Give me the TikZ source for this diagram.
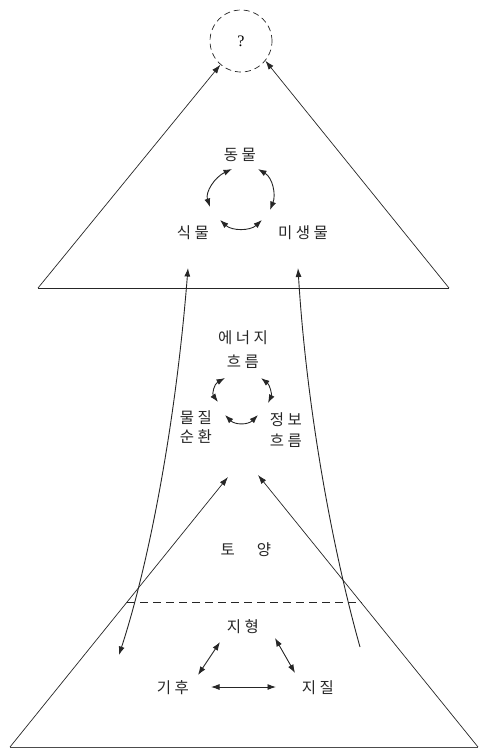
\documentclass[tikz,border=0pt]{standalone}
\usepackage{fontspec}
\setmainfont{Noto Sans CJK KR}
\newfontfamily\qfont{Liberation Serif}
\usetikzlibrary{arrows.meta}
\newcommand{\gp}{\hspace{3.5pt}}
\tikzset{
  lbl/.style={inner sep=0pt, font=\fontsize{15.5}{18}\selectfont, text=black!85},
  edge/.style={line width=0.7pt, draw=black!85},
  arr/.style={edge, -{Latex[length=9pt,width=6pt]}},
  darr/.style={line width=0.9pt, draw=black!85, {Latex[length=8.5pt,width=6pt]}-{Latex[length=8.5pt,width=6pt]}},
}
\begin{document}
\begin{tikzpicture}[x=1pt,y=-1pt]
\useasboundingbox (0,0) rectangle (479,748);
% top circle
\node[circle, draw=black!85, dash pattern=on 6pt off 4pt, line width=0.7pt, minimum size=62pt, inner sep=0pt, font=\qfont\fontsize{16}{18}\selectfont] (q) at (241,41) {?};
% top triangle
\coordinate (tl) at (38,288);
\coordinate (tr) at (449,288);
\draw[edge] (tl) -- (tr);
\draw[arr] (tl) -- (q.-131);
\draw[arr] (tr) -- (q.-39);
% top cycle
\node[lbl] (dm) at (240,155) {동\gp 물};
\node[lbl] (sm) at (193,233) {식\gp 물};
\node[lbl] (ms) at (303,233) {미\gp 생\gp 물};
\coordinate (a1) at (232,169); \coordinate (a2) at (210,207);
\coordinate (a3) at (258,169); \coordinate (a4) at (270,210);
\coordinate (a5) at (220,220); \coordinate (a6) at (262,220);
\draw[darr] (a1) .. controls (215,177) and (205,192) .. (a2);
\draw[darr] (a3) .. controls (273,178) and (276,195) .. (a4);
\draw[darr] (a5) .. controls (232,231) and (250,231) .. (a6);
% middle cycle
\node[lbl] (en) at (243,338) {에\gp 너\gp 지};
\node[lbl] (hr1) at (243,362) {흐\gp 름};
\node[lbl] (mj) at (196,418) {물\gp 질};
\node[lbl] (sh) at (196,437) {순\gp 환};
\node[lbl] (jb) at (286,420) {정\gp 보};
\node[lbl] (hr2) at (286,441) {흐\gp 름};
\coordinate (b1) at (225,378); \coordinate (b2) at (218,402);
\coordinate (b3) at (261,378); \coordinate (b4) at (268,403);
\coordinate (b5) at (225,415); \coordinate (b6) at (258,415);
\draw[darr] (b1) .. controls (214,384) and (212,394) .. (b2);
\draw[darr] (b3) .. controls (270,385) and (272,395) .. (b4);
\draw[darr] (b5) .. controls (235,425) and (248,425) .. (b6);
% long curves
\coordinate (c1) at (188,268); \coordinate (c2) at (119,655);
\coordinate (c3) at (298,268); \coordinate (c4) at (360,647);
\draw[darr] (c1) .. controls (176,420) and (150,560) .. (c2);
\draw[line width=0.9pt, draw=black!85, {Latex[length=9pt,width=6pt]}-] (c3) .. controls (306,400) and (330,540) .. (c4);
% soil
\node[lbl] (ty) at (246,550) {토\hspace{22pt}양};
% bottom triangle
\coordinate (bl) at (10,747);
\coordinate (br) at (478,747);
\coordinate (t1) at (228,477);
\coordinate (t2) at (258,475);
\draw[edge, draw=black!70] (bl) -- (br);
\draw[arr] (bl) -- (t1);
\draw[arr] (br) -- (t2);
\coordinate (d1) at (127,602); \coordinate (d2) at (362,602);
\draw[edge, dash pattern=on 8pt off 5pt] (d1) -- (d2);
% bottom cycle
\node[lbl] (jh) at (243,627) {지\gp 형};
\node[lbl] (gh) at (173,688) {기\gp 후};
\node[lbl] (jj) at (318,688) {지\gp 질};
\coordinate (e1) at (220,642); \coordinate (e2) at (198,675);
\coordinate (e3) at (275,638); \coordinate (e4) at (295,673);
\coordinate (e5) at (211,687); \coordinate (e6) at (276,687);
\draw[darr] (e1) -- (e2);
\draw[darr] (e3) -- (e4);
\draw[darr] (e5) -- (e6);
\end{tikzpicture}
\end{document}
